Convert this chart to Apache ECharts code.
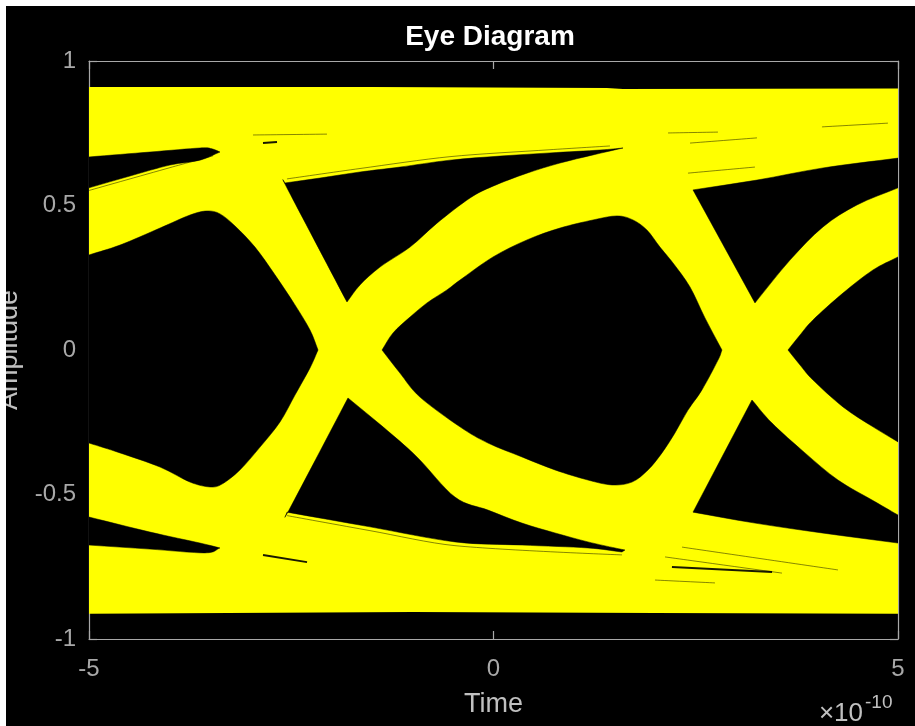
<!DOCTYPE html>
<html><head><meta charset="utf-8">
<script src="https://cdn.jsdelivr.net/npm/echarts@6/dist/echarts.min.js"></script>
<style>
html,body{margin:0;padding:0;background:#fff;width:915px;height:726px;overflow:hidden}
#chart{position:absolute;left:6px;top:6px;width:909px;height:720px;background:#000}
</style>
</head><body><div id="chart"></div>
<script>
// ---- data (time in units of 1e-10 s, amplitude) ----
const xTicks = [-5, 0, 5];
const yTicks = [-1, -0.5, 0, 0.5, 1];

// outer boundary of all traces
const envelope = [[-5,0.910],[-1.5,0.910],[1.4,0.907],[1.6,0.903],[5,0.905],
                  [5,-0.913],[2,-0.910],[-1,-0.907],[-5,-0.913]];

// black openings
const openTopLeft = [[-5,0.668],[-4.246,0.685],[-3.628,0.699],[-3.480,0.696],[-3.381,0.685],
                     [-3.628,0.657],[-3.999,0.640],[-4.493,0.602],[-5,0.561]];
const eyeLeft = [[-5,0.329],[-4.617,0.363],[-4.122,0.422],[-3.752,0.467],[-3.541,0.481],[-3.381,0.471],
                 [-3.195,0.429],[-2.948,0.356],[-2.701,0.260],[-2.454,0.156],[-2.268,0.069],[-2.169,0],
                 [-2.268,-0.062],[-2.454,-0.156],[-2.639,-0.249],[-2.886,-0.336],[-3.134,-0.415],
                 [-3.356,-0.464],[-3.504,-0.474],[-3.752,-0.457],[-4.122,-0.405],[-4.617,-0.356],[-5,-0.322]];
const openBottomLeft = [[-5,-0.578],[-4.246,-0.630],[-3.628,-0.668],[-3.381,-0.685],
                        [-3.566,-0.702],[-4.246,-0.689],[-5,-0.675]];
const openTopMid = [[-2.577,0.578],[-2.145,0.595],[-1.650,0.616],[-1.156,0.633],[-0.538,0.657],
                    [0.080,0.671],[0.698,0.682],[1.316,0.692],[1.601,0.699],
                    [1.230,0.675],[0.822,0.647],[0.414,0.612],[-0.006,0.567],[-0.290,0.526],
                    [-0.698,0.439],[-1.032,0.356],[-1.403,0.287],[-1.650,0.225],[-1.811,0.166],
                    [-2.540,0.554]];
const eyeMid = [[-1.378,0],[-1.242,0.059],[-1.032,0.114],[-0.822,0.163],[-0.575,0.208],[-0.414,0.242],
                [-0.006,0.322],[0.414,0.381],[0.822,0.422],[1.230,0.450],[1.527,0.464],[1.724,0.450],
                [1.897,0.415],[2.058,0.356],[2.219,0.301],[2.429,0.218],[2.614,0.111],[2.824,0],
                [2.775,-0.035],[2.577,-0.138],[2.404,-0.208],[2.243,-0.287],[2.083,-0.356],[1.910,-0.415],
                [1.712,-0.457],[1.465,-0.467],[1.168,-0.450],[0.760,-0.415],[0.352,-0.370],[-0.068,-0.322],
                [-0.414,-0.266],[-0.909,-0.163],[-1.156,-0.080]];
const openBottomMid = [[-1.799,-0.166],[-1.366,-0.266],[-0.946,-0.370],[-0.476,-0.509],[-0.068,-0.554],
                       [0.352,-0.599],[0.760,-0.633],[1.168,-0.664],[1.502,-0.685],[1.625,-0.692],
                       [1.588,-0.699],[1.168,-0.685],[0.352,-0.675],[-0.476,-0.664],[-1.527,-0.612],
                       [-2.553,-0.561],[-2.515,-0.547]];
const openTopRight = [[2.466,0.554],[3.257,0.588],[4.073,0.630],[5,0.664],
                      [5,0.561],[4.493,0.502],[4.073,0.426],[3.665,0.311],[3.232,0.163]];
const eyeRight = [[3.640,0],[3.789,0.052],[3.949,0.104],[4.320,0.197],[4.691,0.277],[5,0.322],
                  [5,-0.318],[4.691,-0.266],[4.320,-0.197],[3.949,-0.104],[3.789,-0.052]];
const openBottomRight = [[3.195,-0.173],[3.443,-0.253],[3.850,-0.356],[4.258,-0.450],[4.679,-0.519],[5,-0.571],
                         [5,-0.668],[4.060,-0.633],[3.232,-0.599],[2.466,-0.561]];

// thin dark streaks inside the trace bands
const thinStreaks = [
  [[-2.973,0.744],[-2.058,0.747]],
  [[2.157,0.751],[2.775,0.754]],
  [[2.404,0.612],[3.232,0.633]],
  [[4.060,0.772],[4.876,0.785]],
  [[2.429,0.716],[3.257,0.734]],
  [[2.120,-0.716],[3.566,-0.772]],
  [[1.996,-0.796],[2.738,-0.806]],
  [[2.330,-0.682],[4.258,-0.761]],
  [[-2.553,0.592],[-1.650,0.628],[-0.538,0.669],[0.698,0.693],[1.440,0.706]],
  [[-5,0.552],[-3.999,0.631],[-3.467,0.672]],
  [[-2.553,-0.573],[-1.527,-0.625],[-0.476,-0.677],[1.588,-0.709]]
];
const thickStreaks = [
  [[-2.849,0.716],[-2.676,0.720]],
  [[-2.849,-0.709],[-2.305,-0.734]],
  [[2.206,-0.751],[3.443,-0.768]]
];

const holes = [openTopLeft, eyeLeft, openBottomLeft, openTopMid, eyeMid, openBottomMid,
               openTopRight, eyeRight, openBottomRight];

// ---- chart ----
const chart = echarts.init(document.getElementById('chart'), null, {renderer:'canvas'});
const gray = '#a8a8a8';
const font = '"Liberation Sans", Arial, Helvetica, sans-serif';

// closed smooth outline through the given pixel points, keeping sharp corners sharp
function smoothClosedPath(pts){
  const n = pts.length, lim = 35 * Math.PI / 180;
  const corner = pts.map((p, i) => {
    const a = pts[(i - 1 + n) % n], b = pts[(i + 1) % n];
    const v1 = [p[0] - a[0], p[1] - a[1]], v2 = [b[0] - p[0], b[1] - p[1]];
    return Math.abs(Math.atan2(v1[0]*v2[1] - v1[1]*v2[0], v1[0]*v2[0] + v1[1]*v2[1])) > lim;
  });
  let d = 'M' + pts[0][0] + ' ' + pts[0][1];
  for (let i = 0; i < n; i++){
    const p0 = pts[(i - 1 + n) % n], p1 = pts[i], p2 = pts[(i + 1) % n], p3 = pts[(i + 2) % n];
    const c1 = corner[i] ? [p1[0] + (p2[0]-p1[0])/3, p1[1] + (p2[1]-p1[1])/3]
                         : [p1[0] + (p2[0]-p0[0])/6, p1[1] + (p2[1]-p0[1])/6];
    const c2 = corner[(i + 1) % n] ? [p2[0] - (p2[0]-p1[0])/3, p2[1] - (p2[1]-p1[1])/3]
                                   : [p2[0] - (p3[0]-p1[0])/6, p2[1] - (p3[1]-p1[1])/6];
    d += ' C' + c1[0] + ' ' + c1[1] + ' ' + c2[0] + ' ' + c2[1] + ' ' + p2[0] + ' ' + p2[1];
  }
  return d + ' Z';
}

function polyRenderer(list, fill){
  return function(params, api){
    const pts = list[params.dataIndex].map(p => api.coord(p));
    return {type:'path', shape:{pathData: smoothClosedPath(pts)},
            style:{fill:fill, stroke:fill, lineWidth:0.5}};
  };
}
function lineRenderer(list, width, alpha){
  return function(params, api){
    const pts = list[params.dataIndex].map(p => api.coord(p));
    return {type:'polyline', shape:{points:pts, smooth:0.3}, style:{fill:null, stroke:'#000', lineWidth:width, opacity:alpha}};
  };
}
const idx = arr => arr.map((_, i) => [i, 0]);

const axisCommon = {
  min:-5, max:5, interval:5, splitLine:{show:false},
  axisLine:{show:true, onZero:false, lineStyle:{color:gray, width:1.2}},
  axisTick:{show:true, inside:true, length:8, lineStyle:{color:gray, width:1.2}}
};

chart.setOption({
  backgroundColor:'#000',
  animation:false,
  grid:{left:83, top:55, width:809, height:578, containLabel:false, outerBoundsMode:'none'},
  xAxis:[
    Object.assign({}, axisCommon, {type:'value', position:'bottom',
      axisLabel:{show:true, color:gray, fontSize:24, fontFamily:font, margin:18,
                 formatter: v => (xTicks.indexOf(v) >= 0 ? String(v) : '')},
      name:'Time', nameLocation:'middle', nameGap:52,
      nameTextStyle:{color:'#c0c0c0', fontSize:27, fontFamily:font}}),
    Object.assign({}, axisCommon, {type:'value', position:'top', axisLabel:{show:false}})
  ],
  yAxis:[
    {type:'value', min:-1, max:1, interval:0.5, position:'left', splitLine:{show:false},
     axisLine:{show:true, onZero:false, lineStyle:{color:gray, width:1.2}},
     axisTick:{show:true, inside:true, length:8, lineStyle:{color:gray, width:1.2}},
     axisLabel:{show:true, color:gray, fontSize:24, fontFamily:font, margin:13,
                formatter: v => (yTicks.indexOf(v) >= 0 ? String(v) : '')},
     name:'Amplitude', nameLocation:'middle', nameGap:66, nameRotate:90,
     nameTextStyle:{color:'#c0c0c0', fontSize:27, fontFamily:font}},
    {type:'value', min:-1, max:1, interval:0.5, position:'right', splitLine:{show:false},
     axisLine:{show:true, onZero:false, lineStyle:{color:gray, width:1.2}},
     axisTick:{show:true, inside:true, length:8, lineStyle:{color:gray, width:1.2}},
     axisLabel:{show:false}}
  ],
  graphic:[
    {type:'text', x:484, y:31, silent:true,
     style:{text:'Eye Diagram', fill:'#ffffff', font:'bold 28px ' + font, textAlign:'center', textVerticalAlign:'middle'}},
    {type:'text', x:857, y:708, silent:true,
     style:{text:'×10', fill:'#c0c0c0', font:'26px ' + font, textAlign:'right', textVerticalAlign:'middle'}},
    {type:'text', x:859, y:697, silent:true,
     style:{text:'-10', fill:'#c0c0c0', font:'19px ' + font, textAlign:'left', textVerticalAlign:'middle'}}
  ],
  series:[
    {type:'custom', coordinateSystem:'cartesian2d', silent:true, clip:true,
     renderItem: function(params, api){
       const pts = envelope.map(p => api.coord(p));
       return {type:'polygon', shape:{points:pts}, style:{fill:'#ffff00'}};
     }, data: idx([envelope])},
    {type:'custom', coordinateSystem:'cartesian2d', silent:true, clip:true,
     renderItem: polyRenderer(holes, '#000000'), data: idx(holes)},
    {type:'custom', coordinateSystem:'cartesian2d', silent:true, clip:true,
     renderItem: lineRenderer(thinStreaks, 0.8, 0.6), data: idx(thinStreaks)},
    {type:'custom', coordinateSystem:'cartesian2d', silent:true, clip:true,
     renderItem: lineRenderer(thickStreaks, 2, 0.9), data: idx(thickStreaks)}
  ]
});
</script>
</body></html>
